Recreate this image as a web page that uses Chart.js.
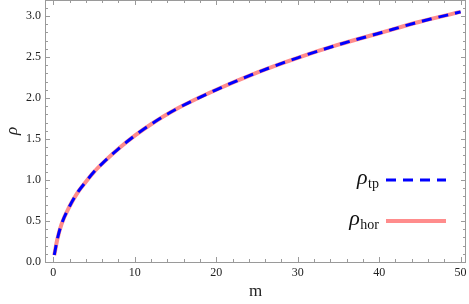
<!DOCTYPE html>
<html>
<head>
<meta charset="utf-8">
<script src="https://cdn.jsdelivr.net/npm/chart.js@4"></script>
<style>
html,body{margin:0;padding:0;background:#fff;}
#wrap{position:relative;width:469px;height:304px;}
</style>
</head>
<body>
<div id="wrap"><canvas id="c" width="469" height="304"></canvas></div>
<script>
// data
const mValues = [0.12, 0.5, 1, 2, 3, 4, 5, 6, 8, 10, 12, 15, 20, 25, 30, 35, 40, 45, 50];
const rhoTp   = [0.085, 0.28, 0.46, 0.68, 0.85, 0.98, 1.10, 1.20, 1.38, 1.54, 1.68, 1.86, 2.10, 2.31, 2.49, 2.65, 2.79, 2.93, 3.05];
const rhoHor  = [0.085, 0.28, 0.46, 0.68, 0.85, 0.98, 1.10, 1.20, 1.38, 1.54, 1.68, 1.86, 2.10, 2.31, 2.49, 2.65, 2.79, 2.93, 3.05];
const xTicks = [0, 10, 20, 30, 40, 50];
const xTickLabels = ['0', '10', '20', '30', '40', '50'];
const yTicks = [0, 0.5, 1, 1.5, 2, 2.5, 3];
const yTickLabels = ['0.0', '0.5', '1.0', '1.5', '2.0', '2.5', '3.0'];
const xMinor = [2,4,6,8,12,14,16,18,22,24,26,28,32,34,36,38,42,44,46,48];
const yMinor = [];
for (let i = 1; i <= 31; i++) { if (i % 5 !== 0) yMinor.push(+(i / 10).toFixed(1)); }
const seriesNames = ['tp', 'hor'];

const SERIF = '"Liberation Serif","DejaVu Serif",serif';
const FRAME = '#9a9a9a';
const BLUE = '#0000ff';
const PINK = 'rgb(255,140,140)';

const toPts = (xs, ys) => xs.map((x, i) => ({x: x, y: ys[i]}));

const framePlugin = {
  id: 'frameTicks',
  afterDraw(chart) {
    const ctx = chart.ctx, a = chart.chartArea;
    const xs = chart.scales.x, ys = chart.scales.y;
    ctx.save();
    ctx.strokeStyle = FRAME;
    ctx.lineWidth = 1;
    ctx.strokeRect(Math.round(a.left) + 0.5, Math.round(a.top) + 0.5, Math.round(a.right - a.left) - 1, Math.round(a.bottom - a.top));
    const tick = (v, len, axis) => {
      ctx.beginPath();
      if (axis === 'x') {
        const p = Math.round(xs.getPixelForValue(v)) + 0.5;
        ctx.moveTo(p, a.bottom); ctx.lineTo(p, a.bottom - len);
        ctx.moveTo(p, a.top); ctx.lineTo(p, a.top + len);
      } else {
        const p = Math.round(ys.getPixelForValue(v)) + 0.5;
        ctx.moveTo(a.left, p); ctx.lineTo(a.left + len, p);
        ctx.moveTo(a.right, p); ctx.lineTo(a.right - len, p);
      }
      ctx.stroke();
    };
    xTicks.forEach(v => tick(v, 5, 'x'));
    xMinor.forEach(v => tick(v, 3, 'x'));
    yTicks.forEach(v => tick(v, 5, 'y'));
    yMinor.forEach(v => tick(v, 3, 'y'));

    // legend
    const entries = [
      {sub: seriesNames[0], color: BLUE, dash: [10, 7], width: 3, lineY: 180, base: 184},
      {sub: seriesNames[1], color: PINK, dash: [], width: 4, lineY: 221, base: 225}
    ];
    entries.forEach(e => {
      ctx.fillStyle = '#111';
      ctx.textBaseline = 'alphabetic';
      ctx.font = '14px ' + SERIF;
      const subW = ctx.measureText(e.sub).width;
      ctx.textAlign = 'right';
      ctx.fillText(e.sub, 379, e.base + 4);
      ctx.font = 'italic 22px ' + SERIF;
      ctx.fillText('ρ', 379 - subW - 0.5, e.base);
      ctx.beginPath();
      ctx.strokeStyle = e.color;
      ctx.lineWidth = e.width;
      ctx.setLineDash(e.dash);
      ctx.moveTo(386, e.lineY); ctx.lineTo(446, e.lineY);
      ctx.stroke();
      ctx.setLineDash([]);
    });
    ctx.restore();
  }
};

new Chart(document.getElementById('c'), {
  type: 'line',
  data: {
    datasets: [
      {
        label: 'ρtp', data: toPts(mValues, rhoTp), order: 0,
        borderColor: BLUE, borderWidth: 3, borderDash: [10, 7],
        pointRadius: 0, fill: false, cubicInterpolationMode: 'monotone'
      },
      {
        label: 'ρhor', data: toPts(mValues, rhoHor), order: 1,
        borderColor: PINK, borderWidth: 4,
        pointRadius: 0, fill: false, cubicInterpolationMode: 'monotone'
      }
    ]
  },
  options: {
    responsive: false,
    animation: false,
    layout: {padding: {top: 0, right: 3, left: 0, bottom: 0}},
    plugins: {legend: {display: false}, tooltip: {enabled: false}},
    scales: {
      x: {
        type: 'linear', min: -1.02, max: 50.66,
        grid: {display: false, drawTicks: false}, border: {display: false},
        afterBuildTicks: s => { s.ticks = xTicks.map(v => ({value: v})); },
        afterFit: s => { s.height = 42; s.paddingLeft = 0; s.paddingRight = 0; },
        ticks: {
          padding: 4, color: '#222', font: {family: SERIF, size: 12},
          callback: (v) => { const i = xTicks.indexOf(v); return i >= 0 ? xTickLabels[i] : ''; }
        },
        title: {display: true, text: 'm', color: '#222', font: {family: SERIF, size: 17}, padding: {top: 0, bottom: 2}}
      },
      y: {
        type: 'linear', min: 0, max: 3.195,
        grid: {display: false, drawTicks: false}, border: {display: false},
        afterBuildTicks: s => { s.ticks = yTicks.map(v => ({value: v})); },
        afterFit: s => { s.width = 45; s.paddingTop = 0; s.paddingBottom = 0; },
        ticks: {
          padding: 4, color: '#222', font: {family: SERIF, size: 12},
          callback: (v) => { const i = yTicks.indexOf(v); return i >= 0 ? yTickLabels[i] : ''; }
        },
        title: {display: true, text: 'ρ', color: '#222', font: {family: SERIF, size: 17, style: 'italic'}, padding: {top: 2, bottom: 0}}
      }
    }
  },
  plugins: [framePlugin]
});
</script>
</body>
</html>
